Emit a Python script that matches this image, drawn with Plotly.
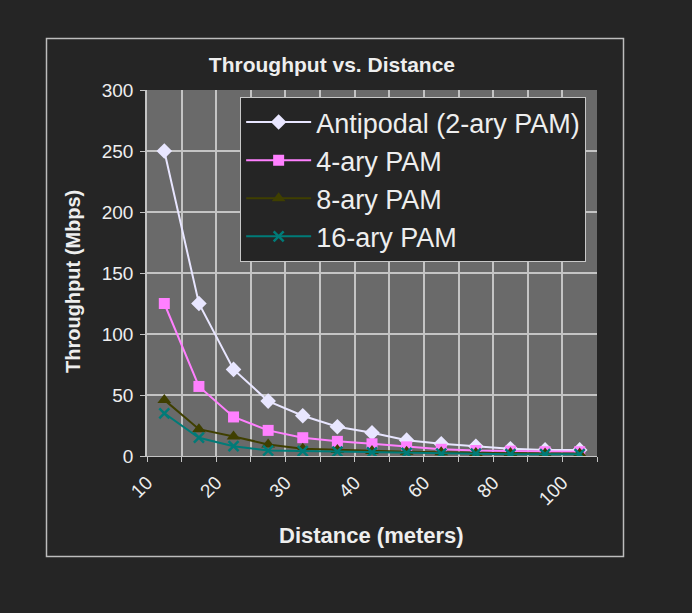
import plotly.graph_objects as go

distances = ["10", "15", "20", "25", "30", "35", "40", "50", "60", "70", "80", "90", "100"]
label_distances = ["10", "20", "30", "40", "60", "80", "100"]

antipodal = [250, 125, 71, 45, 33, 24, 19, 13, 10, 8, 6, 5, 5]
pam4 = [125, 57, 32, 21, 15, 12, 10, 7.5, 5.5, 4.5, 4, 3.5, 3.5]
pam8 = [46, 22, 16, 9.5, 6, 5, 4, 3.5, 3, 2.5, 2.5, 2, 2]
pam16 = [35, 15, 8, 4.5, 4, 3.5, 3, 2.5, 2, 2, 1.5, 1.5, 1.5]

series = [
    ("Antipodal (2-ary PAM)", antipodal, "#e8e6ff", "diamond", 12),
    ("4-ary PAM", pam4, "#ff80ff", "square", 11),
    ("8-ary PAM", pam8, "#3f3f00", "triangle-up", 12),
    ("16-ary PAM", pam16, "#007b78", "x-thin-open", 10),
]

idx = list(range(len(distances)))

fig = go.Figure()
for name, vals, col, sym, sz in series:
    fig.add_trace(go.Scatter(
        x=idx, y=vals, name=name, mode="lines+markers",
        line=dict(color=col, width=2),
        marker=dict(color=col, symbol=sym, size=sz,
                    line=dict(color=col, width=2.5 if "x" in sym else 0)),
    ))

grid = "#c4c4c4"
txt = "#eeeeee"
font = "Arial, Liberation Sans, sans-serif"

lab_pos = [distances.index(d) - 0.5 for d in label_distances]
bounds = [i - 0.5 for i in range(len(distances) + 1)]

fig.update_layout(
    width=692, height=613,
    paper_bgcolor="#252525", plot_bgcolor="#6a6a6a",
    margin=dict(l=147, r=95, t=90, b=157),
    font=dict(family=font, color=txt),
    showlegend=True,
    legend=dict(x=0.207, y=(456 - 97) / 366, xanchor="left", yanchor="top",
                bgcolor="#252525", bordercolor="#c8c8c8", borderwidth=1,
                font=dict(size=27, color=txt), itemwidth=65),
    title=dict(text="<b>Throughput vs. Distance</b>", x=0.411, xref="paper",
               xanchor="center", y=1 - 65 / 613, yref="container", yanchor="middle",
               font=dict(size=21, color=txt)),
    xaxis=dict(range=[-0.5, 12.5], tickvals=lab_pos, ticktext=label_distances,
               tickangle=-45, showgrid=False, zeroline=False,
               ticks="", tickfont=dict(size=19, color=txt), ticklabelstandoff=7,
               showline=True, linecolor=grid, linewidth=1,
               minor=dict(tickvals=bounds, ticks="outside", ticklen=5,
                          tickcolor=grid, showgrid=True, gridcolor=grid, gridwidth=1.5)),
    yaxis=dict(range=[0, 300], dtick=50, showgrid=True, gridcolor=grid, gridwidth=1.5,
               zeroline=False, ticks="outside", ticklen=5, tickcolor=grid,
               showline=True, linecolor=grid, linewidth=1.5, ticklabelstandoff=3,
               tickfont=dict(size=19, color=txt)),
    annotations=[
        dict(text="<b>Throughput (Mbps)</b>", xref="paper", yref="paper",
             x=(73 - 147) / 450, y=(456 - 282) / 366, textangle=-90,
             showarrow=False, font=dict(size=20, color=txt),
             xanchor="center", yanchor="middle"),
        dict(text="<b>Distance (meters)</b>", xref="paper", yref="paper",
             x=(371 - 147) / 450, y=(456 - 535) / 366,
             showarrow=False, font=dict(size=22, color=txt),
             xanchor="center", yanchor="middle"),
    ],
    shapes=[dict(type="rect", xref="paper", yref="paper",
                 x0=(46.5 - 147) / 450, x1=(623.5 - 147) / 450,
                 y0=(456 - 556.5) / 366, y1=(456 - 38.5) / 366,
                 line=dict(color="#bdbdbd", width=1.5), layer="below")],
)

fig.write_html(
    "out.html",
    config={"displayModeBar": False},
    post_script="document.body.style.margin='0';document.body.style.background='#252525';",
)
